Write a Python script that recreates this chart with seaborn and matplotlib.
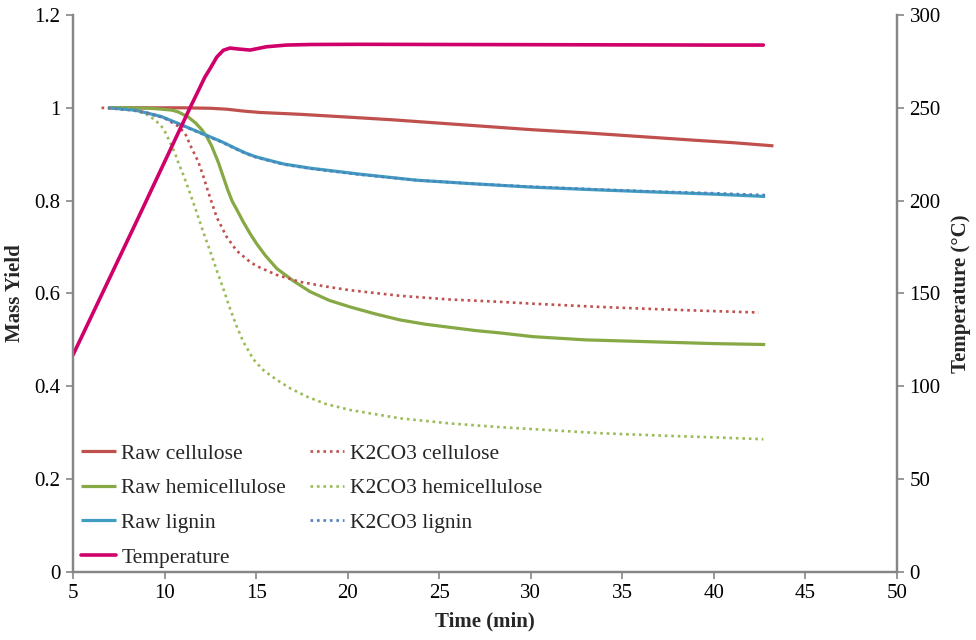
import matplotlib
matplotlib.use("Agg")
import matplotlib.pyplot as plt
import seaborn as sns
import pandas as pd

# ---- series data (time in min, mass yield fraction / temperature in degC) ----
raw_cellulose_t = [7.0, 9.0, 11.0, 12.5, 13.4, 14.3, 15.2, 16.3, 17.4, 20.0, 22.5, 25.0,
                   27.5, 30.0, 33.0, 36.0, 39.0, 41.0, 43.25]
raw_cellulose_y = [1.000, 1.000, 1.000, 0.999, 0.997, 0.993, 0.990, 0.988, 0.986, 0.980,
                   0.974, 0.967, 0.960, 0.953, 0.946, 0.938, 0.930, 0.925, 0.918]

raw_hemi_t = [7.0, 8.0, 9.2, 9.84, 10.4, 10.75, 11.3, 11.7, 12.03, 12.3, 12.57, 12.94,
              13.2, 13.45, 13.7, 13.94, 14.3, 14.67, 15.03, 15.5, 16.12, 17.0, 17.94,
              19.0, 20.13, 21.5, 22.86, 24.2, 25.59, 27.0, 28.32, 30.1, 33.0, 36.5,
              40.0, 42.8]
raw_hemi_y = [1.000, 1.000, 0.999, 0.997, 0.995, 0.991, 0.980, 0.967, 0.953, 0.938, 0.918,
              0.882, 0.852, 0.823, 0.798, 0.781, 0.754, 0.729, 0.707, 0.682, 0.654, 0.628,
              0.604, 0.585, 0.571, 0.556, 0.543, 0.534, 0.527, 0.520, 0.515, 0.507, 0.500,
              0.496, 0.492, 0.490]

raw_lignin_t = [6.93, 8.39, 9.84, 10.94, 12.03, 13.12, 13.85, 14.4, 14.94, 15.5, 16.5,
                17.94, 20.67, 23.77, 27.0, 30.1, 33.78, 36.5, 40.0, 42.8]
raw_lignin_y = [1.000, 0.995, 0.981, 0.963, 0.945, 0.927, 0.913, 0.903, 0.895, 0.889,
                0.879, 0.870, 0.857, 0.844, 0.836, 0.829, 0.823, 0.819, 0.814, 0.809]

k2_cellulose_t = [6.56, 8.0, 9.0, 10.0, 10.75, 11.12, 11.48, 11.84, 12.12, 12.39, 12.85,
                  13.39, 13.94, 14.67, 15.03, 16.12, 17.4, 18.8, 20.13, 22.86, 25.59,
                  28.32, 30.1, 33.78, 37.0, 40.0, 42.43]
k2_cellulose_y = [1.000, 0.996, 0.990, 0.978, 0.960, 0.945, 0.913, 0.884, 0.852, 0.818,
                  0.764, 0.722, 0.692, 0.668, 0.659, 0.640, 0.625, 0.615, 0.607, 0.595,
                  0.587, 0.582, 0.578, 0.571, 0.566, 0.562, 0.559]

k2_hemi_t = [6.9, 8.0, 8.57, 8.93, 9.48, 9.93, 10.2, 10.57, 10.75, 11.02, 11.39, 11.75,
             12.12, 12.57, 12.85, 13.21, 13.58, 13.94, 14.3, 14.85, 15.39, 16.12, 16.85,
             17.76, 18.8, 20.13, 22.86, 25.59, 28.32, 30.0, 33.78, 37.0, 40.0, 42.7]
k2_hemi_y = [1.000, 0.997, 0.992, 0.988, 0.974, 0.956, 0.934, 0.902, 0.882, 0.856, 0.816,
             0.775, 0.732, 0.682, 0.650, 0.610, 0.567, 0.529, 0.496, 0.458, 0.435, 0.414,
             0.396, 0.378, 0.362, 0.349, 0.331, 0.320, 0.312, 0.308, 0.299, 0.294, 0.290,
             0.286]

k2_lignin_t = [6.9, 8.39, 9.84, 10.94, 12.03, 13.12, 13.85, 14.4, 14.94, 15.5, 16.5,
               17.94, 20.67, 23.77, 27.0, 30.1, 33.78, 36.5, 40.0, 42.8]
k2_lignin_y = [1.000, 0.994, 0.980, 0.962, 0.944, 0.926, 0.912, 0.902, 0.894, 0.888,
               0.878, 0.869, 0.856, 0.844, 0.836, 0.830, 0.824, 0.820, 0.816, 0.812]

temp_t = [5.0, 8.48, 9.93, 11.39, 12.2, 12.48, 12.85, 13.21, 13.58, 14.0, 14.67, 15.58,
          16.67, 18.0, 20.67, 25.0, 30.0, 35.0, 40.0, 42.7]
temp_y = [116.9, 189.0, 219.4, 250.0, 266.5, 271.0, 277.3, 281.0, 282.2, 281.7, 281.1,
          282.9, 283.8, 284.1, 284.2, 284.1, 284.0, 283.9, 283.8, 283.8]

x_ticks = [5, 10, 15, 20, 25, 30, 35, 40, 45, 50]
y_ticks = [0, 0.2, 0.4, 0.6, 0.8, 1.0, 1.2]
y_ticklabels = ["0", "0.2", "0.4", "0.6", "0.8", "1", "1.2"]
t_ticks = [0, 50, 100, 150, 200, 250, 300]

# ---- styling ----
sns.set_style("ticks")
plt.rcParams["font.family"] = ["Liberation Serif", "DejaVu Serif"]

AXIS_GREY = "#868686"
FS = 15
FS_LEG = 15.5

fig = plt.figure(figsize=(9.76, 6.4), dpi=100)
ax = fig.add_axes([0.0748, 0.1063, 0.8443, 0.8703])
ax2 = ax.twinx()

dot = (0, (1, 1.45))

series = [
    (raw_cellulose_t, raw_cellulose_y, "Raw cellulose", "#C0504D", "-", 2.3),
    (raw_hemi_t, raw_hemi_y, "Raw hemicellulose", "#86A845", "-", 2.3),
    (raw_lignin_t, raw_lignin_y, "Raw lignin", "#3E9DC0", "-", 2.3),
    (k2_cellulose_t, k2_cellulose_y, "K2CO3 cellulose", "#C0504D", dot, 1.9),
    (k2_hemi_t, k2_hemi_y, "K2CO3 hemicellulose", "#9BBB59", dot, 1.9),
    (k2_lignin_t, k2_lignin_y, "K2CO3 lignin", "#4F81BD", dot, 1.9),
]

handles = {}
for t, y, name, color, ls, lw in series:
    df = pd.DataFrame({"t": t, "y": y})
    sns.lineplot(data=df, x="t", y="y", ax=ax, color=color, linewidth=lw,
                 estimator=None, sort=False, legend=False)
    line = ax.lines[-1]
    line.set_linestyle(ls)
    line.set_solid_capstyle("butt")
    handles[name] = line

df_temp = pd.DataFrame({"t": temp_t, "T": temp_y})
sns.lineplot(data=df_temp, x="t", y="T", ax=ax2, color="#D0006B", linewidth=2.6,
             estimator=None, sort=False, legend=False)
handles["Temperature"] = ax2.lines[-1]

# ---- axes ----
ax.set_xlim(5, 50)
ax.set_ylim(0, 1.2)
ax2.set_ylim(0, 300)
ax.set_xticks(x_ticks)
ax.set_xticklabels([str(v) for v in x_ticks], fontsize=FS)
ax.set_yticks(y_ticks)
ax.set_yticklabels(y_ticklabels, fontsize=FS)
ax2.set_yticks(t_ticks)
ax2.set_yticklabels([str(v) for v in t_ticks], fontsize=FS)

for a in (ax, ax2):
    a.spines["top"].set_visible(False)
    for side in ("left", "right", "bottom"):
        a.spines[side].set_color(AXIS_GREY)
        a.spines[side].set_linewidth(1.6)
    a.tick_params(axis="both", direction="out", length=5, width=1.2,
                  color=AXIS_GREY, labelcolor="black", pad=4)
    a.grid(False)

ax.set_xlabel("Time (min)", fontsize=FS, fontweight="bold", labelpad=6)
ax.set_ylabel("Mass Yield", fontsize=FS, fontweight="bold", labelpad=7)
ax2.set_ylabel("Temperature (\u00b0C)", fontsize=FS, fontweight="bold", labelpad=7)

order = ["Raw cellulose", "Raw hemicellulose", "Raw lignin", "Temperature",
         "K2CO3 cellulose", "K2CO3 hemicellulose", "K2CO3 lignin"]
leg = ax2.legend([handles[k] for k in order], order, ncol=2, loc="lower left",
                 bbox_to_anchor=(0.005, 0.0), frameon=False, fontsize=FS_LEG,
                 handlelength=1.6, handletextpad=0.25, columnspacing=1.1,
                 labelspacing=0.68, borderaxespad=0.0, borderpad=0.2)

fig.savefig("out.png", dpi=100, facecolor="white")
